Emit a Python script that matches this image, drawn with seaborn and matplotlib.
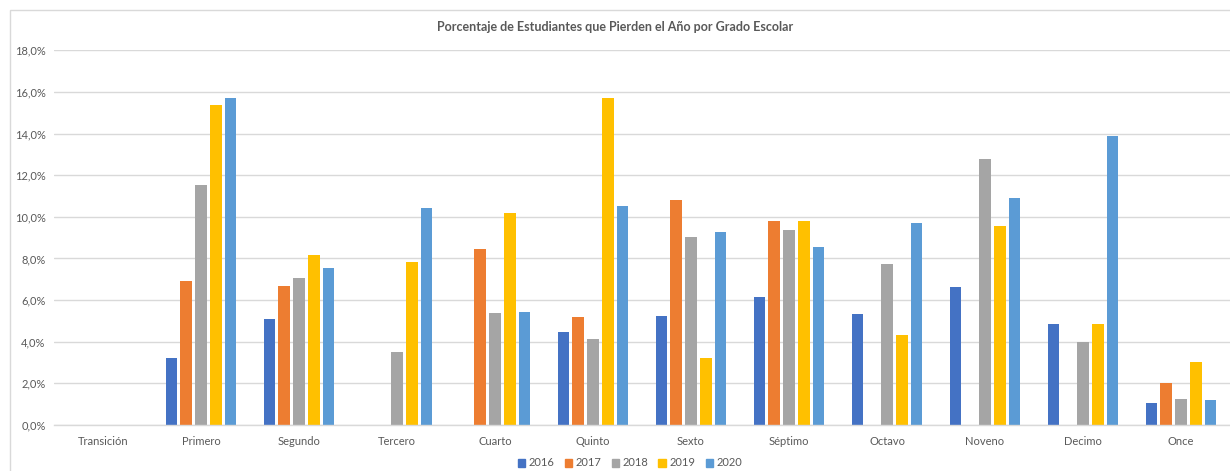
import numpy as np
import pandas as pd
import matplotlib
matplotlib.use("Agg")
import matplotlib.pyplot as plt
from matplotlib.ticker import FuncFormatter, FixedLocator
from matplotlib.patches import Rectangle
import seaborn as sns

grados = ["Transición", "Primero", "Segundo", "Tercero", "Cuarto", "Quinto",
          "Sexto", "Séptimo", "Octavo", "Noveno", "Decimo", "Once"]
anios = ["2016", "2017", "2018", "2019", "2020"]

# Porcentaje de estudiantes que pierden el año (fracción), por grado
v2016 = [0.0, 0.0324, 0.0510, 0.0, 0.0, 0.0446, 0.0524, 0.0615, 0.0532, 0.0663, 0.0486, 0.0106]
v2017 = [0.0, 0.0692, 0.0668, 0.0, 0.0846, 0.0519, 0.1082, 0.0982, 0.0, 0.0, 0.0, 0.0200]
v2018 = [0.0, 0.1155, 0.0707, 0.0349, 0.0537, 0.0413, 0.0902, 0.0937, 0.0772, 0.1277, 0.0397, 0.0125]
v2019 = [0.0, 0.1538, 0.0819, 0.0784, 0.1019, 0.1569, 0.0322, 0.0982, 0.0431, 0.0958, 0.0486, 0.0301]
v2020 = [0.0, 0.1569, 0.0755, 0.1042, 0.0545, 0.1050, 0.0928, 0.0854, 0.0971, 0.1090, 0.1386, 0.0119]

colores = ["#4472C4", "#ED7D31", "#A5A5A5", "#FFC000", "#5B9BD5"]

series = [v2016, v2017, v2018, v2019, v2020]
df = pd.DataFrame({
    "Grado": np.tile(grados, len(anios)),
    "Año": np.repeat(anios, len(grados)),
    "Porcentaje": np.concatenate(series),
})

sns.set_theme(style="white")
plt.rcParams["font.family"] = ["Lato", "DejaVu Sans"]

fig = plt.figure(figsize=(12.3, 4.71), dpi=100)
ax = fig.add_axes([54 / 1230, 46 / 471, 1176 / 1230, (425 - 50.3) / 471])

sns.barplot(data=df, x="Grado", y="Porcentaje", hue="Año", order=grados,
            hue_order=anios, palette=colores, saturation=1, width=0.75, gap=0.2,
            linewidth=0, errorbar=None, ax=ax)

gris_texto = "#595959"
ax.set_ylim(0, 0.18)
ax.set_xlim(-0.5, len(grados) - 0.5)
ax.set_yticks(np.arange(0, 0.181, 0.02))
ax.yaxis.set_major_formatter(FuncFormatter(lambda v, _: f"{v * 100:.1f}%".replace(".", ",")))
ax.grid(axis="y", color="#D9D9D9", linewidth=1)
ax.set_axisbelow(True)
for side in ["top", "right", "left"]:
    ax.spines[side].set_visible(False)
ax.spines["bottom"].set_color("#D9D9D9")
ax.spines["bottom"].set_linewidth(1)

ax.tick_params(axis="y", length=0, labelsize=8, labelcolor=gris_texto, pad=6)
ax.tick_params(axis="x", which="major", length=0, labelsize=8, labelcolor=gris_texto, pad=8)
ax.xaxis.set_minor_locator(FixedLocator(np.arange(-0.5, len(grados), 1.0)))
ax.tick_params(axis="x", which="minor", length=4, color="#D9D9D9", width=1)
ax.set_xlabel("")
ax.set_ylabel("")

fig.suptitle("Porcentaje de Estudiantes que Pierden el Año por Grado Escolar",
             x=0.5, y=1 - 27 / 471, va="center", fontsize=9, fontweight="bold",
             color=gris_texto)

ax.legend_.remove()
handles = [Rectangle((0, 0), 1, 1, color=c) for c in colores]
fig.legend(handles, anios, loc="center", bbox_to_anchor=(630 / 1230, 1 - 463 / 471),
           ncol=5, frameon=False, fontsize=8, handlelength=0.7, handleheight=0.7,
           handletextpad=0.3, columnspacing=0.9, labelcolor=gris_texto)

# Marco del gráfico
fig.patches.append(Rectangle((10 / 1230, -0.1), 1.2, 1.1 - 10 / 471, transform=fig.transFigure,
                             fill=False, edgecolor="#D9D9D9", linewidth=1))

fig.savefig("out.png", dpi=100, facecolor="white")
